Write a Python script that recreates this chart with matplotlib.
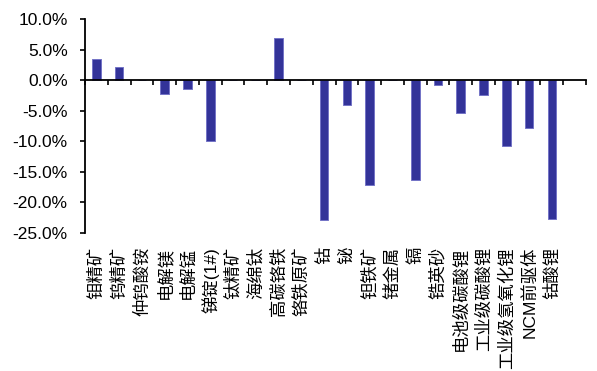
import numpy as np
import matplotlib
matplotlib.use("Agg")
import matplotlib.pyplot as plt
from matplotlib.ticker import FuncFormatter, FixedLocator

plt.rcParams['font.family'] = ['Liberation Sans', 'Noto Sans CJK SC', 'DejaVu Sans']

# price change by product (%)
products = ["钼精矿", "钨精矿", "仲钨酸铵", "电解镁", "电解锰", "锑锭(1#)", "钛精矿",
            "海绵钛", "高碳铬铁", "铬铁原矿", "钴", "铋", "钽铁矿", "锗金属", "镉",
            "锆英砂", "电池级碳酸锂", "工业级碳酸锂", "工业级氢氧化锂", "NCM前驱体", "钴酸锂"]
changes = [3.4, 2.1, 0.0, -2.2, -1.5, -9.9, 0.0, 0.0, 6.9, 0.0, -22.9, -4.0,
           -17.1, 0.0, -16.4, -0.8, -5.3, -2.5, -10.7, -7.8, -22.7]
yticks = [10, 5, 0, -5, -10, -15, -20, -25]


def main():
    fig = plt.figure(figsize=(5.97, 3.71), dpi=100)
    ax = fig.add_axes([0.1424, 0.372, 0.8392, 0.5768])

    x = np.arange(len(products))
    ax.bar(x, changes, width=0.38, color="#333399", edgecolor="#7373c6", linewidth=0.7, zorder=2)

    # one empty slot after the last category, as in the source chart
    ax.set_xlim(-0.5, len(products) + 0.5)
    ax.set_ylim(min(yticks), max(yticks))
    ax.set_yticks(yticks)
    ax.yaxis.set_major_formatter(FuncFormatter(lambda v, p: "{:.1f}%".format(v)))
    ax.tick_params(axis="y", length=3.5, width=1.2, labelsize=12.5, pad=9, direction="out")

    for s in ["top", "right"]:
        ax.spines[s].set_visible(False)
    ax.spines["left"].set_linewidth(1.3)
    ax.spines["bottom"].set_position(("data", 0))
    ax.spines["bottom"].set_linewidth(1.3)
    ax.spines["bottom"].set_zorder(3)

    # boundary ticks on the zero line, no labels there
    ax.xaxis.set_major_locator(FixedLocator(np.arange(-0.5, len(products) + 1, 1)))
    ax.tick_params(axis="x", length=3.5, width=1.2, labelbottom=False, direction="out")

    # category labels at the bottom of the plot area
    sec = ax.secondary_xaxis(0.0)
    sec.set_xticks(x, products)
    sec.spines["bottom"].set_visible(False)
    sec.tick_params(axis="x", length=0, pad=10)
    for lbl in sec.get_xticklabels():
        lbl.set_rotation(90)
        lbl.set_fontsize(12.5)
        lbl.set_va("top")
        lbl.set_ha("center")

    fig.savefig("out.png", dpi=100)


if __name__ == '__main__':
    main()
